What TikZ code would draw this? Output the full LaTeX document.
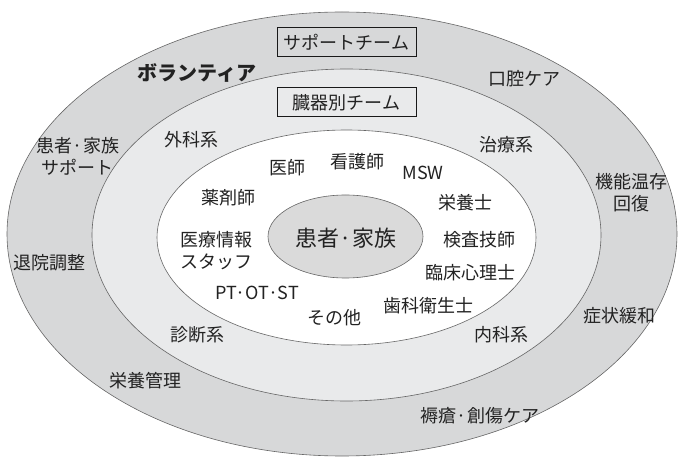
\documentclass[tikz,border=0pt]{standalone}
\usepackage{fontspec}
\setmainfont{Noto Sans CJK JP}
\usetikzlibrary{shapes.geometric}
\definecolor{ringA}{HTML}{D7D8D9}
\definecolor{ringB}{HTML}{E9EAEB}
\definecolor{coreC}{HTML}{DADADA}
\definecolor{txt}{HTML}{222222}
\begin{document}
\begin{tikzpicture}[x=1pt,y=-1pt,
  ring/.style={ellipse, draw=black!60, line width=0.6pt, inner sep=0pt},
  lbl/.style={font=\fontsize{18}{22}\selectfont, text=txt, inner sep=0pt, align=center},
  teambox/.style={draw=black!90, line width=1pt, font=\fontsize{18}{22}\selectfont, text=txt,
    minimum width=139pt, minimum height=29pt, inner sep=0pt}]
\useasboundingbox (0,0) rectangle (678,457);
\fill[white] (0,0) rectangle (678,457);
% rings
\node[ring, fill=ringA, minimum width=670pt, minimum height=444pt] (outer) at (342,234) {};
\node[ring, fill=ringB, minimum width=509pt, minimum height=332pt] (organ) at (346.5,235) {};
\node[ring, fill=white, minimum width=379pt, minimum height=215pt] (staff) at (346.5,237.5) {};
\node[ring, fill=coreC, minimum width=155pt, minimum height=83pt] (core) at (345.5,236.5) {};
% center
\node[lbl, font=\fontsize{22}{26}\selectfont] (patient) at (346,238) {患者·家族};
% team boxes
\node[teambox] (support) at (346.5,42.5) {サポートチーム};
\node[teambox] (organteam) at (346.5,102.5) {臓器別チーム};
% outer ring labels
\node[lbl, font=\fontsize{20}{24}\selectfont\bfseries] (volunteer) at (197,73) {ボランティア};
\node[lbl] (oral) at (524,79) {口腔ケア};
\node[lbl] (family) at (78,156) {患者·家族\\サポート};
\node[lbl] (function) at (631,192.5) {機能温存\\回復};
\node[lbl] (discharge) at (49,263) {退院調整};
\node[lbl] (symptom) at (619,316) {症状緩和};
\node[lbl] (nutrition) at (145,381) {栄養管理};
\node[lbl] (wound) at (480,416) {褥瘡·創傷ケア};
% organ ring labels
\node[lbl] (surgery) at (191,140) {外科系};
\node[lbl] (treat) at (506,145) {治療系};
\node[lbl] (diag) at (197,335) {診断系};
\node[lbl] (medicine) at (501,335) {内科系};
% staff labels
\node[lbl] (doctor) at (287,168) {医師};
\node[lbl] (nurse) at (357,162) {看護師};
\node[lbl] (msw) at (423,173) {MSW};
\node[lbl] (pharm) at (228,198) {薬剤師};
\node[lbl] (diet) at (465,203) {栄養士};
\node[lbl] (info) at (216,250.5) {医療情報\\スタッフ};
\node[lbl] (lab) at (479,240) {検査技師};
\node[lbl] (psych) at (470,273) {臨床心理士};
\node[lbl] (rehab) at (257,293) {PT·OT·ST};
\node[lbl] (dental) at (428,306) {歯科衛生士};
\node[lbl] (other) at (334,318) {その他};
\end{tikzpicture}
\end{document}
